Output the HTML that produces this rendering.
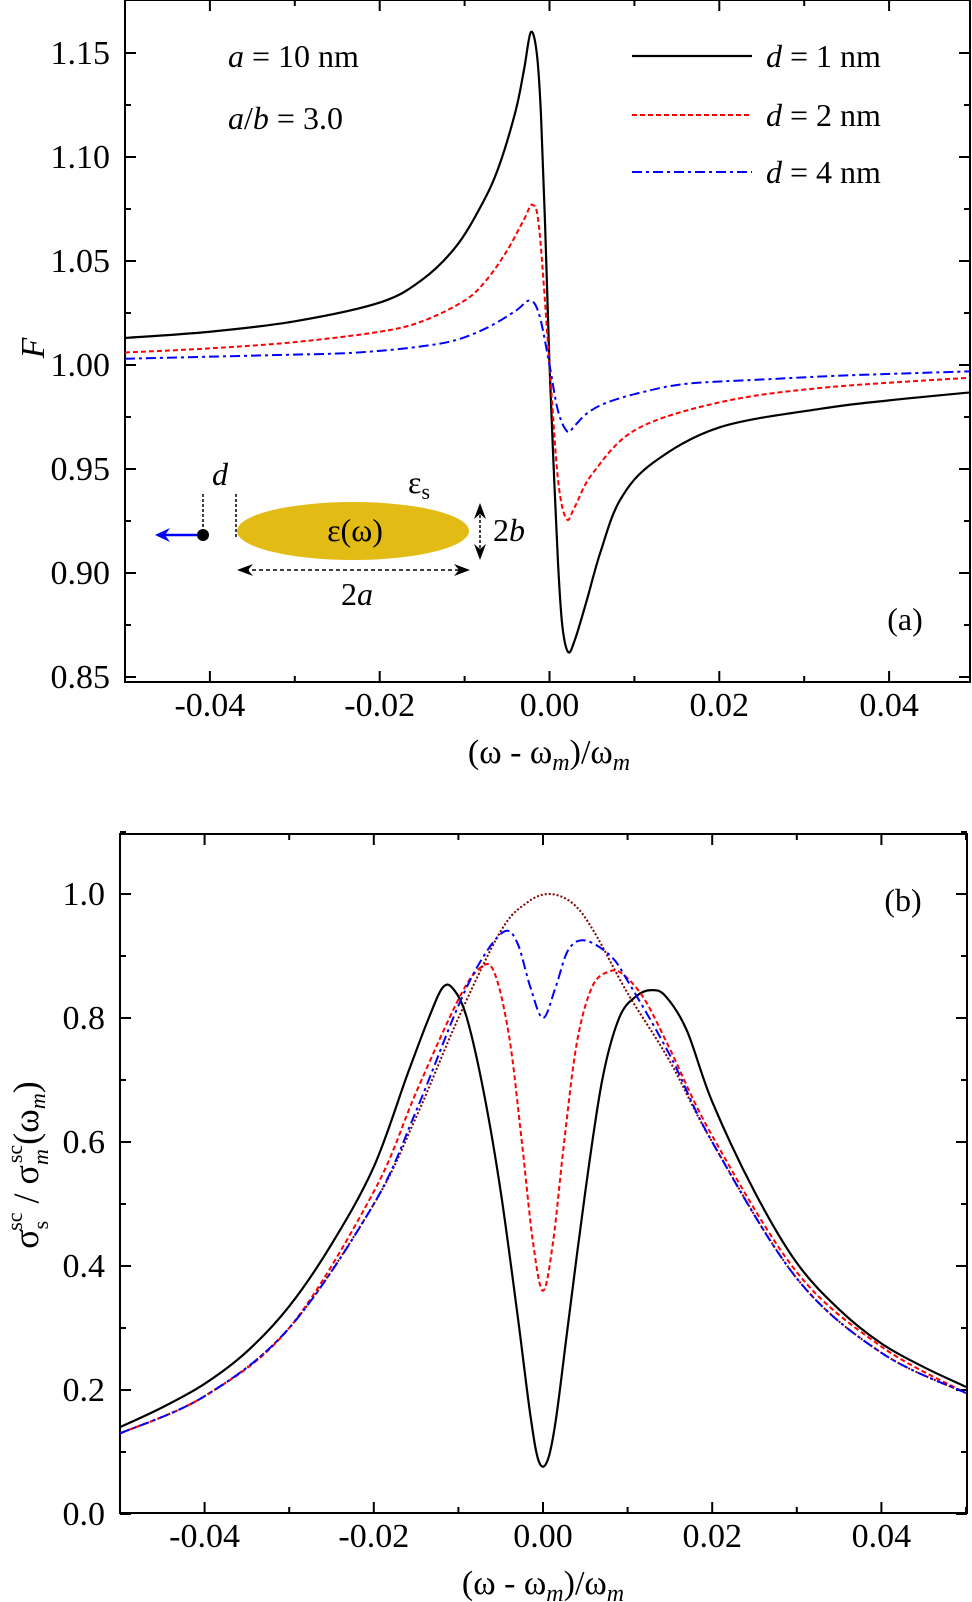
<!DOCTYPE html>
<html><head><meta charset="utf-8"><style>
html,body{margin:0;padding:0;background:#fff}
svg{display:block;font-family:"Liberation Serif",serif}
</style></head><body>
<svg id="fig" width="972" height="1602" viewBox="0 0 972 1602">
<g id="pa"></g>
<g id="pb"></g>
</svg>
<script>
// Panel (a) data
const aX1 = [-0.05,-0.04,-0.03,-0.02,-0.015,-0.011,-0.008,-0.006,-0.004,-0.003,-0.0022,-0.0015,-0.001,-0.0005,0,0.0005,0.001,0.0015,0.0022,0.003,0.0044,0.006,0.0083,0.0122,0.02,0.032,0.04,0.05];
const aY1 = [1.013,1.016,1.021,1.030,1.041,1.057,1.077,1.095,1.122,1.142,1.160,1.150,1.120,1.065,1.000,0.950,0.905,0.875,0.862,0.868,0.887,0.910,0.935,0.953,0.970,0.979,0.983,0.987];
const aX2 = [-0.05,-0.04,-0.03,-0.02,-0.015,-0.01,-0.0074,-0.005,-0.003,-0.002,-0.0012,0,0.001,0.002,0.003,0.0051,0.0102,0.02,0.032,0.05];
const aY2 = [1.006,1.008,1.011,1.016,1.021,1.031,1.041,1.055,1.070,1.077,1.065,1.000,0.945,0.926,0.932,0.948,0.969,0.982,0.989,0.994];
const aX4 = [-0.05,-0.04,-0.03,-0.025,-0.02,-0.015,-0.011,-0.0073,-0.004,-0.0023,-0.0012,0,0.001,0.0021,0.003,0.0045,0.0068,0.011,0.0162,0.025,0.035,0.05];
const aY4 = [1.003,1.004,1.005,1.0055,1.0068,1.009,1.012,1.018,1.026,1.031,1.024,1.000,0.978,0.968,0.971,0.977,0.982,0.987,0.991,0.993,0.995,0.997];
const aYTicks = [0.85,0.90,0.95,1.00,1.05,1.10,1.15];
const aYLabels = ["0.85","0.90","0.95","1.00","1.05","1.10","1.15"];
const xTicks = [-0.04,-0.02,0.00,0.02,0.04];
const xLabels = ["-0.04","-0.02","0.00","0.02","0.04"];
// Panel (b) data
const bX1 = [-0.05,-0.045,-0.04,-0.035,-0.03,-0.025,-0.02,-0.016,-0.0135,-0.0118,-0.0105,-0.009,-0.007,-0.005,-0.003,-0.0015,-0.0005,0.0005,0.0015,0.003,0.005,0.007,0.009,0.011,0.0128,0.0145,0.017,0.02,0.025,0.03,0.035,0.04,0.045,0.05];
const bY1 = [0.14,0.172,0.21,0.262,0.335,0.435,0.56,0.71,0.80,0.85,0.845,0.80,0.68,0.52,0.32,0.16,0.085,0.085,0.15,0.31,0.52,0.70,0.80,0.835,0.845,0.835,0.78,0.665,0.52,0.405,0.33,0.275,0.237,0.205];
const bX2 = [-0.05,-0.04,-0.03,-0.02,-0.015,-0.01,-0.0075,-0.0058,-0.004,-0.0025,-0.0012,0,0.0012,0.0025,0.004,0.0058,0.0078,0.0095,0.012,0.015,0.02,0.03,0.04,0.05];
const bY2 = [0.13,0.19,0.30,0.52,0.68,0.83,0.88,0.875,0.77,0.60,0.44,0.36,0.44,0.60,0.76,0.85,0.875,0.87,0.83,0.75,0.61,0.39,0.27,0.195];
const bX4 = [-0.05,-0.04,-0.03,-0.02,-0.015,-0.01,-0.007,-0.0045,-0.003,-0.0015,0,0.0015,0.003,0.005,0.008,0.01,0.015,0.02,0.03,0.04,0.05];
const bY4 = [0.13,0.19,0.30,0.50,0.65,0.82,0.90,0.94,0.92,0.85,0.80,0.85,0.91,0.925,0.90,0.86,0.74,0.60,0.38,0.26,0.195];
const bX0 = [-0.05,-0.04,-0.03,-0.02,-0.015,-0.01,-0.005,-0.002,0.0007,0.0035,0.006,0.01,0.015,0.02,0.03,0.04,0.05];
const bY0 = [0.13,0.19,0.30,0.50,0.64,0.80,0.94,0.985,1.0,0.985,0.94,0.84,0.73,0.60,0.38,0.26,0.195];
const bYTicks = [0.0,0.2,0.4,0.6,0.8,1.0];
const bYLabels = ["0.0","0.2","0.4","0.6","0.8","1.0"];

const NS="http://www.w3.org/2000/svg";
function mk(p,tag,attrs,txt){const e=document.createElementNS(NS,tag);for(const k in attrs)e.setAttribute(k,attrs[k]);if(txt!==undefined)e.textContent=txt;p.appendChild(e);return e;}

const A={x0:125,x1:970,y0:682,y1:0,xs:v=>549.5+v*8490,ys:v=>677-(v-0.85)*2080};
const B={x0:120,x1:967,y0:1513,y1:834,xs:v=>543+v*8460,ys:v=>1514-v*620};

function smooth(P){let d="M"+P[0][0].toFixed(2)+","+P[0][1].toFixed(2);
 for(let i=0;i<P.length-1;i++){const p0=P[Math.max(0,i-1)],p1=P[i],p2=P[i+1],p3=P[Math.min(P.length-1,i+2)];
 const c1=[p1[0]+(p2[0]-p0[0])/6,p1[1]+(p2[1]-p0[1])/6],c2=[p2[0]-(p3[0]-p1[0])/6,p2[1]-(p3[1]-p1[1])/6];
 d+=" C"+c1[0].toFixed(2)+","+c1[1].toFixed(2)+" "+c2[0].toFixed(2)+","+c2[1].toFixed(2)+" "+p2[0].toFixed(2)+","+p2[1].toFixed(2);}
 return d;}

function frame(g,ax,yT,yL,minorY){
 const fr=mk(g,"rect",{x:ax.x0,y:ax.y1,width:ax.x1-ax.x0,height:ax.y0-ax.y1,fill:"none",stroke:"#000","stroke-width":2});
 
 
 for(let v=-0.05;v<=0.0501;v+=0.01){const x=ax.xs(v);const maj=Math.abs(Math.round(v*100))%2===0;const L=maj?11:6;
  mk(g,"line",{x1:x,x2:x,y1:ax.y0,y2:ax.y0-L,stroke:"#000","stroke-width":2});
  mk(g,"line",{x1:x,x2:x,y1:ax.y1,y2:ax.y1+L,stroke:"#000","stroke-width":2});}
 xTicks.forEach((v,i)=>{const t=mk(g,"text",{x:ax.xs(v),y:ax.y0+34,"text-anchor":"middle","font-size":34},xLabels[i]);
  
  });
 for(let i=0;i<yT.length;i++){const y=ax.ys(yT[i]);
  mk(g,"line",{x1:ax.x0,x2:ax.x0+11,y1:y,y2:y,stroke:"#000","stroke-width":2});
  mk(g,"line",{x1:ax.x1,x2:ax.x1-11,y1:y,y2:y,stroke:"#000","stroke-width":2});
  const t=mk(g,"text",{x:ax.x0-15,y:y+11,"text-anchor":"end","font-size":34},yL[i]);
  
  
  if(i<yT.length-1){const ym=ax.ys((yT[i]+yT[i+1])/2);
   mk(g,"line",{x1:ax.x0,x2:ax.x0+6,y1:ym,y2:ym,stroke:"#000","stroke-width":2});
   mk(g,"line",{x1:ax.x1,x2:ax.x1-6,y1:ym,y2:ym,stroke:"#000","stroke-width":2});}}
 if(minorY!==undefined){const ym=ax.ys(minorY);
   mk(g,"line",{x1:ax.x0,x2:ax.x0+6,y1:ym,y2:ym,stroke:"#000","stroke-width":2});
   mk(g,"line",{x1:ax.x1,x2:ax.x1-6,y1:ym,y2:ym,stroke:"#000","stroke-width":2});}
}
function series(g,ax,X,Y,color,dash,name,w){const P=X.map((x,i)=>[ax.xs(x),ax.ys(Y[i])]);
 const p=mk(g,"path",{d:smooth(P),fill:"none",stroke:color,"stroke-width":w||2,"stroke-dasharray":dash||"none"});
 
 }

const pa=document.getElementById("pa"), pb=document.getElementById("pb");
const clipA=mk(document.getElementById("fig"),"clipPath",{id:"ca"});mk(clipA,"rect",{x:125,y:0,width:845,height:682});
const clipB=mk(document.getElementById("fig"),"clipPath",{id:"cb"});mk(clipB,"rect",{x:120,y:834,width:847,height:679});
frame(pa,A,aYTicks,aYLabels);
frame(pb,B,bYTicks,bYLabels,1.1);
const ga=mk(pa,"g",{"clip-path":"url(#ca)"});
series(ga,A,aX1,aY1,"#000","","series-d1-curve",2.2);
series(ga,A,aX2,aY2,"#f00","5 3","series-d2-curve");
series(ga,A,aX4,aY4,"#00f","10 4 3 4","series-d4-curve");
const gb=mk(pb,"g",{"clip-path":"url(#cb)"});
series(gb,B,bX0,bY0,"#800000","2 2","series-bulk-curve");
series(gb,B,bX1,bY1,"#000","","series-d1-curve",2.2);
series(gb,B,bX2,bY2,"#f00","5 3","series-d2-curve");
series(gb,B,bX4,bY4,"#00f","10 4 3 4","series-d4-curve");
</script>
<script>
(function(){
const svg=document.getElementById("fig");
svg.insertAdjacentHTML("beforeend",`
<g font-size="32">
 <g><line x1="632" x2="752" y1="56" y2="56" stroke="#000" stroke-width="2.2"/><text x="766" y="67"><tspan font-style="italic">d</tspan> = 1 nm</text></g>
 <g><line x1="632" x2="752" y1="115" y2="115" stroke="#f00" stroke-width="2" stroke-dasharray="5 3"/><text x="766" y="126"><tspan font-style="italic">d</tspan> = 2 nm</text></g>
 <g><line x1="632" x2="752" y1="172" y2="172" stroke="#00f" stroke-width="2" stroke-dasharray="10 4 3 4"/><text x="766" y="183"><tspan font-style="italic">d</tspan> = 4 nm</text></g>
</g>
<text x="228" y="67" font-size="32"><tspan font-style="italic">a</tspan> = 10 nm</text>
<text x="228" y="129" font-size="32"><tspan font-style="italic">a</tspan>/<tspan font-style="italic">b</tspan> = 3.0</text>
<text x="905" y="630" font-size="32" text-anchor="middle">(a)</text>
<text x="903" y="911" font-size="32" text-anchor="middle">(b)</text>
<text x="0" y="0" font-size="34" font-style="italic" text-anchor="middle" transform="translate(44,348) rotate(-90)">F</text>
<text x="549" y="763" font-size="34" text-anchor="middle">(ω - ω<tspan font-style="italic" font-size="24" dy="7">m</tspan><tspan dy="-7">)/ω</tspan><tspan font-style="italic" font-size="24" dy="7">m</tspan></text>
<text x="543" y="1594" font-size="34" text-anchor="middle">(ω - ω<tspan font-style="italic" font-size="24" dy="7">m</tspan><tspan dy="-7">)/ω</tspan><tspan font-style="italic" font-size="24" dy="7">m</tspan></text>
<text x="0" y="0" font-size="36" text-anchor="middle" transform="translate(38,1165) rotate(-90)">σ<tspan font-size="22" dy="10">s</tspan><tspan font-size="22" dx="-10" dy="-26">sc</tspan><tspan dy="16"> / σ</tspan><tspan font-size="22" font-style="italic" dy="10">m</tspan><tspan font-size="22" dx="-14" dy="-26">sc</tspan><tspan dy="16">(ω</tspan><tspan font-size="22" font-style="italic" dy="7">m</tspan><tspan dy="-7">)</tspan></text>
<g>
 <ellipse cx="353" cy="531" rx="116" ry="29" fill="#e2bc14"/>
 <text x="355" y="541" font-size="32" text-anchor="middle">ε(ω)</text>
 <text x="408" y="493" font-size="32">ε<tspan font-size="22" dy="6">s</tspan></text>
 <line x1="203" x2="203" y1="494" y2="535" stroke="#000" stroke-width="1.5" stroke-dasharray="3 2"/>
 <line x1="236" x2="236" y1="494" y2="537" stroke="#000" stroke-width="1.5" stroke-dasharray="3 2"/>
 <text x="220" y="485" font-size="32" font-style="italic" text-anchor="middle">d</text>
 <line x1="203" x2="162" y1="535" y2="535" stroke="#00f" stroke-width="2.5"/>
 <path d="M155,535 L170,528 L165,535 L170,542 Z" fill="#00f"/>
 <circle cx="203" cy="535" r="6" fill="#000"/>
 <line x1="245" x2="462" y1="570" y2="570" stroke="#000" stroke-width="1.5" stroke-dasharray="4 3"/>
 <path d="M237,570 L253,564 L248,570 L253,576 Z M470,570 L454,564 L459,570 L454,576 Z" fill="#000"/>
 <text x="357" y="605" font-size="32" text-anchor="middle">2<tspan font-style="italic">a</tspan></text>
 <line x1="480" x2="480" y1="510" y2="553" stroke="#000" stroke-width="1.5" stroke-dasharray="3 2"/>
 <path d="M480,503 L474,519 L480,514 L486,519 Z M480,560 L474,544 L480,549 L486,544 Z" fill="#000"/>
 <text x="493" y="541" font-size="32">2<tspan font-style="italic">b</tspan></text>
</g>`);
})();
</script>
</body></html>
